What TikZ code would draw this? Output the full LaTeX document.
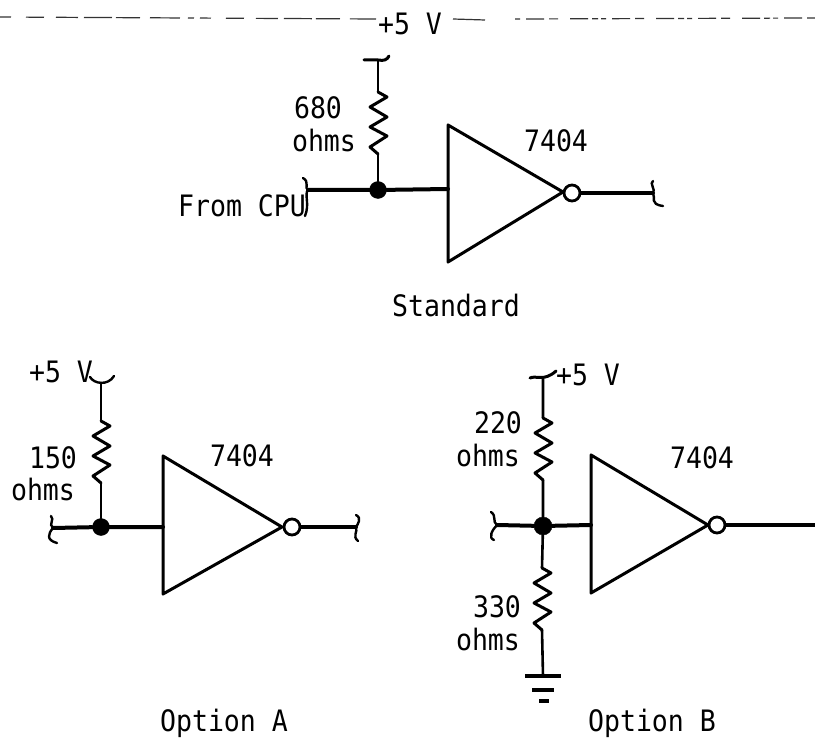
\documentclass[tikz,border=0pt]{standalone}
\usepackage{fontspec}
\setmainfont[FakeStretch=0.9]{DejaVu Sans Mono}
\tikzset{
  wire/.style={line width=3pt,line cap=round,line join=round},
  thick wire/.style={line width=4pt,line cap=round,line join=round},
  stem/.style={line width=2.6pt,line cap=round},
  tail/.style={line width=2.4pt,line cap=round},
  gate/.style={line width=3pt,line join=round},
  dot/.style={circle,fill=black,draw=black,inner sep=0pt,minimum size=17pt},
  bubble/.style={circle,fill=white,draw=black,line width=2.8pt,inner sep=0pt,minimum size=16pt},
  lbl/.style={inner sep=0pt,anchor=base,font=\fontsize{29.5}{29.5}\selectfont},
  noise/.style={line width=1.2pt,black!80},
  resistor/.pic={\draw[wire] (0,0) -- (9,5) -- (-8,15) -- (9,25) -- (-8,35) -- (9,44) -- (-8,55) -- (0,62);},
}
\begin{document}
\begin{tikzpicture}[x=1pt,y=-1pt]
\useasboundingbox (0,0) rectangle (815,738);
\fill[white] (0,0) rectangle (815,738);
% top rail
\coordinate (r1) at (0,17); \coordinate (r2) at (376,19); \coordinate (r3) at (515,19); \coordinate (r4) at (815,18);
\draw[noise,dash pattern=on 11pt off 15pt on 18pt off 12pt on 22pt off 6pt on 28pt off 4pt on 24pt off 10pt on 30pt off 8pt on 6pt off 6pt] (r1) -- (r2);
\draw[noise] (453,19) -- (485,20);
\draw[noise,dash pattern=on 5pt off 6pt on 18pt off 5pt on 9pt off 12pt on 18pt off 4pt on 6pt off 3pt] (r3) -- (r4);
\node[lbl] (v0) at (410,35) {+5 V};
% Standard
\coordinate (a1) at (448,125); \coordinate (a2) at (448,262); \coordinate (a3) at (563,192);
\draw[gate] (a1) -- (a2) -- (a3) -- cycle;
\node[bubble] (ba) at (572,193) {};
\coordinate (ain) at (448,189); \coordinate (aout) at (653,193); \coordinate (al) at (308,190);
\coordinate (atop) at (378,60); \coordinate (az1) at (378,92); \coordinate (az2) at (378,154);
\node[dot] (ja) at (378,190) {};
\draw[thick wire] (al) -- (ja) -- (ain);
\draw[thick wire] (ba) -- (aout);
\draw[stem] (atop) -- (az1) (az2) -- (ja);
\pic at (az1) {resistor};
\draw[wire] (364,60) -- (atop) .. controls (384,61) and (387,60) .. (389,56);
\draw[tail] (303,178) .. controls (310,182) and (304,188) .. (al) .. controls (304,194) and (310,204) .. (305,216);
\draw[tail] (653,181) .. controls (649,183) and (656,190) .. (aout) .. controls (656,198) and (649,204) .. (663,206);
\node[lbl] (t680) at (318,119) {680};
\node[lbl] (ta) at (324,152) {ohms};
\node[lbl] (cpu) at (242,217) {From CPU};
\node[lbl] (t7a) at (556,152) {7404};
\node[lbl] (std) at (456,317) {Standard};
% Option A
\coordinate (b1) at (163,456); \coordinate (b2) at (163,594); \coordinate (b3) at (282,527);
\draw[gate] (b1) -- (b2) -- (b3) -- cycle;
\node[bubble] (bb) at (292,527) {};
\coordinate (bin) at (163,527); \coordinate (bout) at (356,527); \coordinate (bl) at (53,528);
\coordinate (btop) at (101,383); \coordinate (bz1) at (101,421); \coordinate (bz2) at (101,483);
\node[dot] (jb) at (101,527) {};
\draw[thick wire] (bl) -- (jb) -- (bin);
\draw[thick wire] (bb) -- (bout);
\draw[stem] (btop) -- (bz1) (bz2) -- (jb);
\pic at (bz1) {resistor};
\draw[tail] (90,377) .. controls (94,384) and (108,386) .. (114,376);
\draw[tail] (51,516) .. controls (55,520) and (48,524) .. (bl) .. controls (48,534) and (46,540) .. (57,543);
\draw[tail] (356,515) .. controls (362,518) and (358,524) .. (bout) .. controls (358,532) and (352,536) .. (358,541);
\node[lbl] (vb) at (61,383) {+5 V};
\node[lbl] (t150) at (53,468) {150};
\node[lbl] (tb) at (43,500) {ohms};
\node[lbl] (t7b) at (242,467) {7404};
\node[lbl] (opa) at (224,731) {Option A};
% Option B
\coordinate (c1) at (591,455); \coordinate (c2) at (591,593); \coordinate (c3) at (708,525);
\draw[gate] (c1) -- (c2) -- (c3) -- cycle;
\node[bubble] (bc) at (717,525) {};
\coordinate (cin) at (591,525); \coordinate (cout) at (815,525); \coordinate (cl) at (497,525);
\coordinate (ctop) at (543,379); \coordinate (cz1) at (543,418); \coordinate (cz2) at (543,480);
\coordinate (cz3) at (542,568); \coordinate (cz4) at (542,630); \coordinate (gnd) at (543,676);
\node[dot,minimum size=18pt] (jc) at (543,526) {};
\draw[thick wire] (cl) -- (jc) -- (cin);
\draw[thick wire] (bc) -- (cout);
\draw[stem] (ctop) -- (cz1) (cz2) -- (jc) -- (cz3) (cz4) -- (gnd);
\pic at (cz1) {resistor};
\pic at (cz3) {resistor};
\draw[wire] (530,378) .. controls (536,375) and (544,382) .. (556,371);
\draw[tail] (491,512) .. controls (497,516) and (492,522) .. (cl) .. controls (492,530) and (488,538) .. (494,540);
\draw[line width=3.6pt] (525,676) -- (561,676);
\draw[line width=3.6pt] (532,690) -- (554,690);
\draw[line width=3.6pt] (539,701) -- (549,701);
\node[lbl] (vc) at (588,385) {+5 V};
\node[lbl] (t220) at (498,434) {220};
\node[lbl] (tc1) at (488,467) {ohms};
\node[lbl] (t330) at (497,617) {330};
\node[lbl] (tc2) at (488,650) {ohms};
\node[lbl] (t7c) at (702,468) {7404};
\node[lbl] (opb) at (652,731) {Option B};
\end{tikzpicture}
\end{document}
